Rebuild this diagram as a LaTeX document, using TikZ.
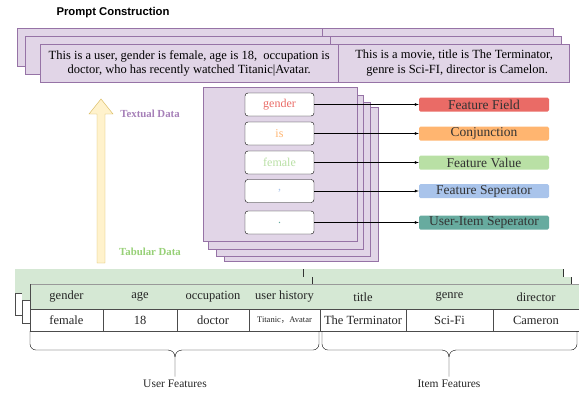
\documentclass[tikz,border=0pt]{standalone}
\usepackage{fontspec}
\setmainfont{Liberation Serif}
\newfontfamily\headfont{Liberation Sans}
\newfontfamily\cjk{Noto Sans CJK SC}
\usetikzlibrary{positioning}

\definecolor{purfill}{HTML}{E1D5E7}
\definecolor{purline}{HTML}{9673A6}
\definecolor{grnfill}{HTML}{D5E8D4}
\definecolor{redtag}{HTML}{EA6B66}
\definecolor{orgtag}{HTML}{FFB570}
\definecolor{grntag}{HTML}{B9E0A5}
\definecolor{blutag}{HTML}{A9C4EB}
\definecolor{teltag}{HTML}{67AB9F}
\definecolor{arrfill}{HTML}{FFF2CC}
\definecolor{arrline}{HTML}{D6B656}
\definecolor{txtpur}{HTML}{A680B8}
\definecolor{txtgrn}{HTML}{97D077}

\begin{document}
\begin{tikzpicture}[
    x=1pt, y=-1pt,
    card/.style={draw=purline, fill=purfill, thin},
    prompt/.style={card, align=center, minimum height=38pt, anchor=north west, inner sep=0pt, font=\fontsize{12.5}{14.5}\selectfont},
    token/.style={draw=black, fill=white, rounded corners=3pt, minimum width=69pt, minimum height=23pt, inner sep=0pt, font=\fontsize{12}{14}\selectfont},
    tag/.style={rounded corners=1.5pt, minimum width=130pt, minimum height=14pt, inner sep=0pt, font=\fontsize{13.5}{14}\selectfont, text=black!80},
    link/.style={->, >=latex, thin},
    header/.style={fill=grnfill},
    row/.style={draw=black!70, fill=white},
    cell/.style={font=\fontsize{12.5}{14}\selectfont, text=black!85},
    brace/.style={draw=black, rounded corners=6pt},
]
\useasboundingbox (0,0) rectangle (579,392);

% title
\node[font=\headfont\bfseries\fontsize{11.3}{13}\selectfont, anchor=west] (title) at (53,13) {Prompt Construction};

% prompt stack
\draw[card] (17,28) rectangle (322,66);
\draw[card] (322,28) rectangle (553,66);
\draw[card] (25,36) rectangle (330,74);
\draw[card] (330,36) rectangle (561,74);
\node[prompt, minimum width=298pt] (userprompt) at (40,44)
    {This is a user, gender is female, age is 18,\ \ occupation is\\ doctor, who has recently watched Titanic|Avatar.};
\node[prompt, minimum width=231pt, anchor=north west] (itemprompt) at (userprompt.north east)
    {This is a movie, title is The Terminator,\\ \ \ genre is Sci-FI, director is Camelon.};

% token stack
\draw[card] (224,107) rectangle (378,261);
\draw[card] (216,102) rectangle (370,256);
\draw[card] (208,95) rectangle (363,249);
\draw[card] (203,87) rectangle (357,241);

\node[token, text=redtag] (tokfield) at (279.5,104.5) {gender};
\node[token, text=orgtag] (tokconj) at (279.5,133.5) {is};
\node[token, text=grntag] (tokvalue) at (279.5,162.5) {female};
\node[token, text=blutag] (toksep) at (279.5,191) {,};
\node[token, text=teltag] (tokui) at (279.5,222.5) {.};

\node[tag, fill=redtag] (tagfield) at (484,104.5) {Feature Field};
\node[tag, fill=orgtag] (tagconj) at (484,133.5) {Conjunction};
\node[tag, fill=grntag] (tagvalue) at (484,162.5) {Feature Value};
\node[tag, fill=blutag] (tagsep) at (484,191) {Feature Seperator};
\node[tag, fill=teltag] (tagui) at (484,222.5) {User-Item Seperator};

\draw[link] (tokfield) -- (tagfield);
\draw[link] (tokconj) -- (tagconj);
\draw[link] (tokvalue) -- (tagvalue);
\draw[link] (toksep) -- (tagsep);
\draw[link] (tokui) -- (tagui);

% conversion arrow
\draw[draw=arrline, fill=arrfill] (97,263) -- (97,114) -- (89,114) -- (101,99) -- (113,114) -- (105,114) -- (105,263) -- cycle;
\node[font=\bfseries\fontsize{10.8}{12}\selectfont, text=txtpur] (textual) at (150,114) {Textual Data};
\node[font=\bfseries\fontsize{10.8}{12}\selectfont, text=txtgrn] (tabular) at (150,252) {Tabular Data};

% table stack
\fill[header] (15,269) rectangle (563,293);
\draw[row] (15,293) rectangle (563,315);
\draw[black!80] (303,269) -- (303,315) (563,269) -- (563,293);
\fill[header] (22,277) rectangle (571,300);
\draw[row] (22,300) rectangle (571,323);
\draw[black!80] (312,277) -- (312,323) (571,277) -- (571,300);
\fill[header] (30,284) rectangle (579,309);
\draw[black!40] (30,284) -- (579,284);
\draw[row] (30,309) rectangle (579,331);
\draw[black!70] (30,284) -- (30,309);
\draw[black!70] (103,309) -- (103,331) (177,309) -- (177,331) (249,309) -- (249,331)
    (320,309) -- (320,331) (406,309) -- (406,331) (493,309) -- (493,331);

\node[cell] (hgender) at (66.5,297) {gender};
\node[cell] (hage) at (140,297) {age};
\node[cell] (hocc) at (213,297) {occupation};
\node[cell] (hhist) at (284.5,297) {user history};
\node[cell] (htitle) at (363,297) {title};
\node[cell] (hgenre) at (449.5,297) {genre};
\node[cell] (hdir) at (536,297) {director};

\node[cell] (vgender) at (66.5,320) {female};
\node[cell] (vage) at (140,320) {18};
\node[cell] (vocc) at (213,320) {doctor};
\node[cell, font=\fontsize{8.5}{10}\selectfont] (vhist) at (284.5,320) {Titanic{\cjk ，}Avatar};
\node[cell] (vtitle) at (363,320) {The Terminator};
\node[cell] (vgenre) at (449.5,320) {Sci-Fi};
\node[cell] (vdir) at (536,320) {Cameron};

% braces
\node[cell, font=\fontsize{11.5}{13}\selectfont] (userfeat) at (175,384) {User Features};
\node[cell, font=\fontsize{11.5}{13}\selectfont] (itemfeat) at (449,384) {Item Features};
\draw[brace] (30,331) -- (30,350) -- (168,350);
\draw (168,350) to[out=0,in=90] (175,357) -- (userfeat.north);
\draw[brace] (319,331) -- (319,350) -- (182,350);
\draw (182,350) to[out=180,in=90] (175,357);
\draw[brace] (322,331) -- (322,350) -- (442,350);
\draw (442,350) to[out=0,in=90] (449,357) -- (itemfeat.north);
\draw[brace] (577,331) -- (577,350) -- (456,350);
\draw (456,350) to[out=180,in=90] (449,357);
\end{tikzpicture}
\end{document}
